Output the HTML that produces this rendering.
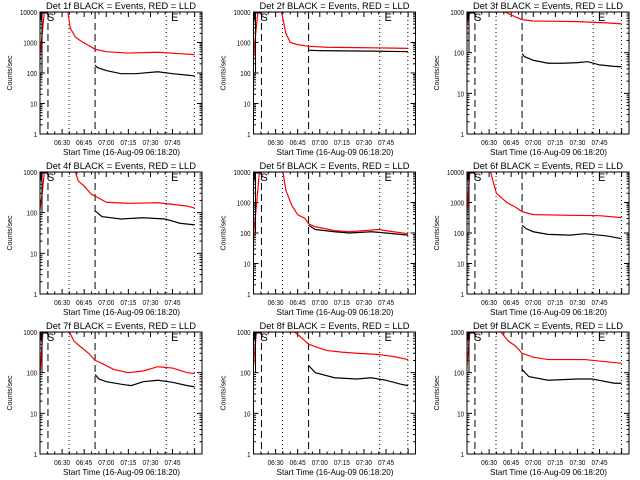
<!DOCTYPE html>
<html><head><meta charset="utf-8"><style>
body{margin:0;background:#fff;width:640px;height:480px;overflow:hidden}
svg{display:block}
text{font-family:"Liberation Sans",sans-serif;fill:#000}
</style></head><body>
<svg id="chart" width="640" height="480" viewBox="0 0 640 480" xmlns="http://www.w3.org/2000/svg">
<rect x="0" y="0" width="640" height="480" fill="#fff"/>
</svg>
<script>
// Detector names
const detNames = ["1f","2f","3f","4f","5f","6f","7f","8f","9f"];
// Y axis top (decades)
const yTops = [10000,10000,1000,1000,10000,10000,1000,1000,1000];
// Time ticks (minutes from 06:15)
const xTickMinutes = [15,30,45,60,75,90];
const xTickLabels = ["06:30","06:45","07:00","07:15","07:30","07:45"];
// Event markers (minutes from 06:15)
const dashedMarks = [5.4,37.4];
const dottedMarks = [19.7,85.7,104.8];
// Red (LLD) series: times and values
const redT = [
 [0,1.5,3,19,20.5,24,28,33,37.4,45,60,80,95,105],
 [0,1.5,3,19,22,25,30,37.4,50,70,90,105],
 [0,1,2,26,30,33,37.4,45,60,75,85,95,105],
 [0,1.5,3,24,26,30,35,38,45,60,80,90,100,105],
 [0,2,4,20,22,26,30,35,37.4,42,55,65,75,85,95,105],
 [0,1,2,16,20,27,33,37.4,45,70,90,105],
 [0,1,2,20,23,27,33,37.4,42,50,60,70,80,90,100,105],
 [0,1,2,28,33,37.4,45,50,60,70,85,95,105],
 [0,1,2,23,28,33,37.4,45,55,65,80,95,105]
];
const redV = [
 [400,2000,10000,10000,3000,1500,1100,800,600,500,450,480,430,400],
 [300,2000,10000,10000,2000,1000,850,750,700,680,660,640],
 [500,700,1000,1000,850,750,650,600,590,580,560,540,510],
 [120,300,1000,1000,600,450,280,250,180,170,175,160,145,130],
 [80,800,10000,10000,2500,800,400,300,200,160,120,110,120,130,110,95],
 [400,2500,10000,10000,2000,1000,700,500,400,380,370,320],
 [90,300,1000,1000,600,450,300,200,170,120,100,110,140,130,100,95],
 [150,400,1000,1000,700,500,400,350,320,300,280,250,210],
 [150,400,1000,1000,600,450,300,240,210,210,210,185,170]
];
// Black (events) series: times and values
const blackT = [
 [37.4,39,45,55,65,80,90,100,105],
 [37.4,45,60,80,95,105],
 [37.4,39,45,55,65,75,82,90,100,105],
 [37.4,39,42,55,70,85,95,105],
 [37.4,42,55,65,80,90,105],
 [37.4,40,45,55,70,80,95,105],
 [37.4,40,45,55,62,70,80,90,100,105],
 [37.4,42,55,70,80,90,100,105],
 [37.4,42,55,75,85,100,105]
];
const blackV = [
 [180,150,120,95,95,110,95,85,80],
 [560,540,530,520,510,500],
 [95,80,65,55,55,57,60,50,46,45],
 [110,100,80,70,75,70,55,50],
 [180,130,110,100,110,100,85],
 [180,140,110,90,85,95,80,65],
 [90,70,60,52,48,60,65,58,48,45],
 [150,100,75,70,75,65,52,48],
 [120,80,65,70,70,55,55]
];

const NS="http://www.w3.org/2000/svg";
const svg=document.getElementById('chart');
function mk(tag,attrs,parent){const e=document.createElementNS(NS,tag);for(const k in attrs)e.setAttribute(k,attrs[k]);(parent||svg).appendChild(e);return e;}
const W=162,H=122,TMAX=110;
for(let p=0;p<9;p++){
  const col=p%3,row=Math.floor(p/3);
  const L=40+col*213.5, T=12+row*160, R=L+W, B=T+H;
  const top=yTops[p], dec=Math.log10(top), ppd=H/dec;
  const xs=t=>L+t/TMAX*W;
  const ys=v=>B-Math.log10(v)*ppd;
  const g=mk('g',{});
  
  
  const cid='clip'+p;
  const cp=mk('clipPath',{id:cid},g);mk('rect',{x:L,y:T,width:W,height:H},cp);
  const tt=mk('text',{x:L+6,y:T-3,'font-size':'9.5',textLength:'150',lengthAdjust:'spacingAndGlyphs'},g);
  tt.textContent='Det '+detNames[p]+' BLACK = Events, RED = LLD';
  
  
  const yl=mk('text',{x:0,y:0,'text-anchor':'middle','font-size':'7',transform:`translate(${L-28},${T+H/2}) rotate(-90)`},g);
  yl.textContent='Counts/sec';
  
  
  const xl=mk('text',{x:L+23,y:B+21,'font-size':'8.5',textLength:'117',lengthAdjust:'spacingAndGlyphs'},g);
  xl.textContent='Start Time (16-Aug-09 06:18:20)';
  
  
  for(let d=0;d<=dec;d++){
    const y=ys(Math.pow(10,d));
    mk('line',{x1:L,x2:L+5,y1:y,y2:y,stroke:'#000'},g);
    mk('line',{x1:R,x2:R-5,y1:y,y2:y,stroke:'#000'},g);
    const s=String(Math.pow(10,d));
    const lb=mk('text',{x:L-3-s.length*3.4,y:y+3,'font-size':'7.5',textLength:String(s.length*3.4),lengthAdjust:'spacingAndGlyphs'},g);
    lb.textContent=s;
    
    
    if(d<dec)for(let m=2;m<10;m++){const yy=ys(m*Math.pow(10,d));
      mk('line',{x1:L,x2:L+2.5,y1:yy,y2:yy,stroke:'#000'},g);
      mk('line',{x1:R,x2:R-2.5,y1:yy,y2:yy,stroke:'#000'},g);}
  }
  for(let m=5;m<TMAX;m+=5){const x=xs(m);const len=(m%15===0)?5:2.5;
    mk('line',{x1:x,x2:x,y1:B,y2:B-len,stroke:'#000'},g);
    mk('line',{x1:x,x2:x,y1:T,y2:T+len,stroke:'#000'},g);}
  xTickMinutes.forEach((m,i)=>{const lb=mk('text',{x:xs(m)-8,y:B+11,'font-size':'7.5',textLength:'16',lengthAdjust:'spacingAndGlyphs'},g);
    lb.textContent=xTickLabels[i];
    
    });
  const pg=mk('g',{'clip-path':`url(#${cid})`},g);
  dashedMarks.forEach(m=>{const l=mk('line',{x1:xs(m),x2:xs(m),y1:T,y2:B,stroke:'#000','stroke-dasharray':'7,4'},pg);
    
    });
  dottedMarks.forEach(m=>{const l=mk('line',{x1:xs(m),x2:xs(m),y1:T,y2:B,stroke:'#000','stroke-dasharray':'1,3'},pg);
    
    });
  const rp=mk('polyline',{points:redT[p].map((t,i)=>xs(t)+','+ys(redV[p][i])).join(' '),fill:'none',stroke:'#ff0000','stroke-width':'1.2'},pg);
  
  
  const bp=mk('polyline',{points:blackT[p].map((t,i)=>xs(t)+','+ys(blackV[p][i])).join(' '),fill:'none',stroke:'#000','stroke-width':'1.2'},pg);
  
  
  mk('line',{x1:L+2,x2:L+2,y1:ys(Math.min(top,100)),y2:T,stroke:'#000'},pg);
  const s=mk('text',{x:L+7,y:T+9,'font-size':'11'},g);s.textContent='S';
  
  
  mk('polyline',{points:`${L+1},${T+8} ${L+1},${T+1} ${L+8},${T+1}`,fill:'none',stroke:'#000'},g);
  const e=mk('text',{x:L+131,y:T+9,'font-size':'11'},g);e.textContent='E';
  
  
  const fr=mk('rect',{x:L,y:T,width:W,height:H,fill:'none',stroke:'#000'},g);
  
  
}
</script>
</body></html>
